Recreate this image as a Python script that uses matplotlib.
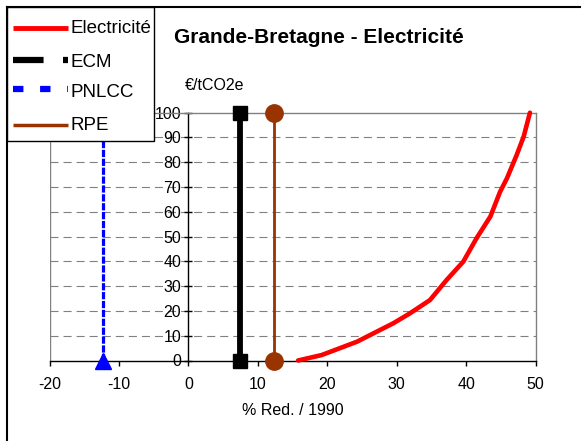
import matplotlib
matplotlib.use("Agg")
import matplotlib.pyplot as plt
from matplotlib.lines import Line2D
from matplotlib.patches import Rectangle

# ---- data ----
elec_x = [15.8, 19.2, 24.3, 29.5, 31.9, 34.8, 37.2, 39.6, 41.5, 43.5, 44.9, 45.9, 47.3, 48.3, 49.2]
elec_y = [0, 2.2, 7.6, 15.0, 19.0, 24.4, 32.5, 39.9, 49.3, 58.1, 68.1, 73.6, 83.0, 90.4, 100]
ecm_x = [7.5, 7.5]
ecm_y = [0, 100]
pnlcc_x = [-12.3, -12.3]
pnlcc_y = [0, 100]
rpe_x = [12.4, 12.4]
rpe_y = [0, 100]

x_ticks = [-20, -10, 0, 10, 20, 30, 40, 50]
y_ticks = [0, 10, 20, 30, 40, 50, 60, 70, 80, 90, 100]

title = "Grande-Bretagne - Electricité"
x_label = "% Red. / 1990"
y_unit = "€/tCO2e"
series_names = ["Electricité", "ECM", "PNLCC", "RPE"]

RED = "#ff0000"
BLACK = "#000000"
BLUE = "#0000ff"
BROWN = "#993300"
GRAY = "#808080"

plt.rcParams["font.family"] = ["Liberation Sans", "DejaVu Sans"]
plt.rcParams["lines.scale_dashes"] = False

W, H = 581, 441
fig = plt.figure(figsize=(W / 100, H / 100), dpi=100)

def fx(px):
    return px / W

def fy(py):
    return 1 - py / H

left, right, top, bottom = 49.5, 535.5, 112.7, 360.5
ax = fig.add_axes([fx(left), fy(bottom), fx(right) - fx(left), fy(top) - fy(bottom)])
ax.set_xlim(-20, 50)
ax.set_ylim(0, 100)

# dashed horizontal grid
for v in y_ticks[1:-1]:
    ax.axhline(v, color=GRAY, lw=0.8, linestyle=(0, (5.8, 3.6)), zorder=0)

# frame of the plot area
for s in ["top", "right"]:
    ax.spines[s].set_color(GRAY)
    ax.spines[s].set_linewidth(1.0)
ax.axvline(-20, color=GRAY, lw=1.0, zorder=0.5)
ax.spines["bottom"].set_color(BLACK)
ax.spines["bottom"].set_linewidth(1.0)
ax.spines["left"].set_position(("data", 0))
ax.spines["left"].set_color(BLACK)
ax.spines["left"].set_linewidth(1.0)

ax.set_xticks(x_ticks)
ax.set_yticks(y_ticks)
ax.set_xticklabels([str(v) for v in x_ticks])
ax.set_yticklabels([str(v) for v in y_ticks])
ax.tick_params(axis="x", direction="out", length=3.6, width=1, pad=8.5, labelsize=11.5)
ax.tick_params(axis="y", direction="inout", length=5.5, width=1, pad=2.5, labelsize=11.5)
ax.set_xlabel(x_label, fontsize=11.5, labelpad=8)

# series
ax.plot(elec_x, elec_y, color=RED, lw=3.3, solid_capstyle="round", zorder=3, clip_on=False)
ax.plot(ecm_x, ecm_y, color=BLACK, lw=4.2, marker="s", markersize=9.5, zorder=3, clip_on=False)
ax.plot(pnlcc_x, pnlcc_y, color=BLUE, lw=2.3, linestyle=(0, (5.2, 1.2)), marker="^",
        markersize=12, zorder=3, clip_on=False)
ax.plot(rpe_x, rpe_y, color=BROWN, lw=2.0, marker="o", markersize=12.5, zorder=3, clip_on=False)

# texts
fig.text(fx(319), fy(43), title, ha="center", va="baseline", fontsize=15, fontweight="bold")
fig.text(fx(185), fy(90), y_unit, ha="left", va="baseline", fontsize=11.5)

# outer frame (top and left edges)
fig.add_artist(Line2D([fx(7), 1], [fy(7), fy(7)], transform=fig.transFigure, color=BLACK, lw=1.5))
fig.add_artist(Line2D([fx(7), fx(7)], [fy(7), 0], transform=fig.transFigure, color=BLACK, lw=1.5))

# legend box, drawn in figure pixels
leg_box = Rectangle((fx(7), fy(141)), fx(154) - fx(7), fy(7) - fy(141),
                    transform=fig.transFigure, facecolor="white", edgecolor=BLACK,
                    lw=1.0, zorder=10)
fig.add_artist(leg_box)
leg_styles = [
    dict(color=RED, lw=3.5, linestyle="-"),
    dict(color=BLACK, lw=4.5, linestyle=(0, (22, 14, 4, 100))),
    dict(color=BLUE, lw=4.5, linestyle=(0, (7.5, 12))),
    dict(color=BROWN, lw=2.5, linestyle="-"),
]
line_rows = [27.5, 60, 89, 124.5]
text_base = [33, 67, 97, 130]
for name, style, ly, tb in zip(series_names, leg_styles, line_rows, text_base):
    fig.add_artist(Line2D([fx(13), fx(68)], [fy(ly), fy(ly)], transform=fig.transFigure,
                          zorder=11, solid_capstyle="butt", **style))
    fig.text(fx(71), fy(tb), name, ha="left", va="baseline", fontsize=13.5, zorder=11)

fig.savefig("out.png", dpi=100)
